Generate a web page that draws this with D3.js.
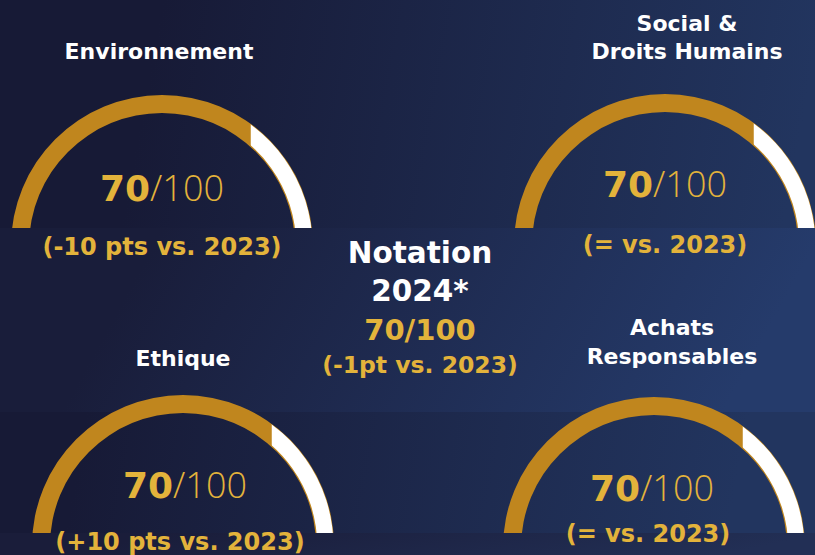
<!DOCTYPE html>
<html>
<head>
<meta charset="utf-8">
<script src="https://cdnjs.cloudflare.com/ajax/libs/d3/7.8.5/d3.min.js"></script>
<style>
  html, body { margin: 0; padding: 0; background: #171a35; }
  #chart { width: 815px; height: 555px; overflow: hidden; }
  text { font-family: "DejaVu Sans", sans-serif; font-weight: bold; }
</style>
</head>
<body>
<div id="chart"></div>
<script>
// Scores per theme (2024) and their change vs. 2023
const categories = [["Environnement"], ["Social &", "Droits Humains"], ["Ethique"], ["Achats", "Responsables"]];
const scores = [70, 70, 70, 70];
const changes = ["(-10 pts vs. 2023)", "(= vs. 2023)", "(+10 pts vs. 2023)", "(= vs. 2023)"];
const maxScore = 100;

// Overall rating
const globalTitle = ["Notation", "2024*"];
const globalScore = 70;
const globalChange = "(-1pt vs. 2023)";

document.addEventListener('DOMContentLoaded', function() {
  const WIDTH = 815;
  const HEIGHT = 555;
  const RADIUS = 151;
  const THICKNESS = 18;
  const GOLD = "#c0861e";
  const GOLD_TEXT = "#e3b33b";

  // where each gauge and its labels sit
  const layout = [
    {cx: 162, cy: 246, titleX: 159, titleY: [59],      scoreX: 162, scoreY: 201, changeX: 162, changeY: 255},
    {cx: 665, cy: 245, titleX: 687, titleY: [31, 59],  scoreX: 665, scoreY: 197, changeX: 665, changeY: 253},
    {cx: 183, cy: 546, titleX: 183, titleY: [366],     scoreX: 185, scoreY: 498, changeX: 180, changeY: 550},
    {cx: 654, cy: 548, titleX: 672, titleY: [335, 364], scoreX: 652, scoreY: 501, changeX: 648, changeY: 542}
  ];

  const angle = d3.scaleLinear()
                  .domain([0, maxScore])
                  .range([-Math.PI / 2, Math.PI / 2]);

  const svg = d3.select('#chart')
                .append('svg')
                .attr('width', WIDTH)
                .attr('height', HEIGHT);

  const defs = svg.append('defs');

  function gradient(id, from, to) {
    const g = defs.append('linearGradient')
                  .attr('id', id)
                  .attr('x1', 0.2).attr('y1', 0)
                  .attr('x2', 1).attr('y2', 0.1);
    g.append('stop').attr('offset', '0%').attr('stop-color', from);
    g.append('stop').attr('offset', '100%').attr('stop-color', to);
  }
  gradient('bg', '#171a36', '#22355f');
  gradient('band', '#191d3a', '#253b6b');
  gradient('foot', '#1a1d3a', '#222f55');

  // Background
  svg.append('rect')
     .attr('width', WIDTH)
     .attr('height', HEIGHT)
     .attr('fill', 'url(#bg)');

  const arcTrack = d3.arc()
                     .innerRadius(RADIUS - THICKNESS)
                     .outerRadius(RADIUS);
  const arcRest = d3.arc()
                    .innerRadius(RADIUS - THICKNESS + 1.2)
                    .outerRadius(RADIUS - 0.6);

  function drawGauge(i) {
    const p = layout[i];
    const a = angle(scores[i]);

    // the remainder starts with a straight vertical edge (local coords)
    defs.append('clipPath')
        .attr('id', 'rest' + i)
        .append('rect')
        .attr('x', RADIUS * Math.sin(a))
        .attr('y', -RADIUS - 2)
        .attr('width', RADIUS)
        .attr('height', RADIUS + 4);

    const g = svg.append('g')
                 .attr('transform', 'translate(' + p.cx + ',' + p.cy + ')');

    g.append('path')
     .attr('d', arcTrack({startAngle: angle(0), endAngle: angle(maxScore)}))
     .attr('fill', GOLD);

    g.append('path')
     .attr('d', arcRest({startAngle: a - 0.3, endAngle: angle(maxScore)}))
     .attr('clip-path', 'url(#rest' + i + ')')
     .attr('fill', '#ffffff');
  }

  // top row gauges, then the middle band hides their lower ends
  drawGauge(0);
  drawGauge(1);

  svg.append('rect')
     .attr('y', 228)
     .attr('width', WIDTH)
     .attr('height', 412 - 228)
     .attr('fill', 'url(#band)');

  drawGauge(2);
  drawGauge(3);

  svg.append('rect')
     .attr('y', 533)
     .attr('width', WIDTH)
     .attr('height', HEIGHT - 533)
     .attr('fill', 'url(#foot)');

  // Labels
  layout.forEach(function(p, i) {
    categories[i].forEach(function(line, j) {
      svg.append('text')
         .attr('x', p.titleX)
         .attr('y', p.titleY[j])
         .attr('text-anchor', 'middle')
         .attr('font-size', 22)
         .attr('fill', '#ffffff')
         .text(line);
    });

    const score = svg.append('text')
                     .attr('x', p.scoreX)
                     .attr('y', p.scoreY)
                     .attr('text-anchor', 'middle')
                     .attr('font-size', 36)
                     .attr('fill', GOLD_TEXT);
    score.append('tspan').text(scores[i]);
    score.append('tspan')
         .attr('font-family', '"Open Sans", sans-serif')
         .attr('font-weight', 300)
         .text('/' + maxScore);

    svg.append('text')
       .attr('x', p.changeX)
       .attr('y', p.changeY)
       .attr('text-anchor', 'middle')
       .attr('font-size', 24)
       .attr('fill', GOLD_TEXT)
       .text(changes[i]);
  });

  // Overall rating in the middle
  const center = [
    {text: globalTitle[0], y: 263, color: '#ffffff', size: 29.5},
    {text: globalTitle[1], y: 301, color: '#ffffff', size: 29.5},
    {text: globalScore + '/' + maxScore, y: 340, color: GOLD_TEXT, size: 29},
    {text: globalChange, y: 373, color: GOLD_TEXT, size: 23.5}
  ];
  svg.selectAll('text.center')
     .data(center)
     .enter()
     .append('text')
     .attr('class', 'center')
     .attr('x', 420)
     .attr('y', d => d.y)
     .attr('text-anchor', 'middle')
     .attr('font-size', d => d.size)
     .attr('fill', d => d.color)
     .text(d => d.text);
});
</script>
</body>
</html>
